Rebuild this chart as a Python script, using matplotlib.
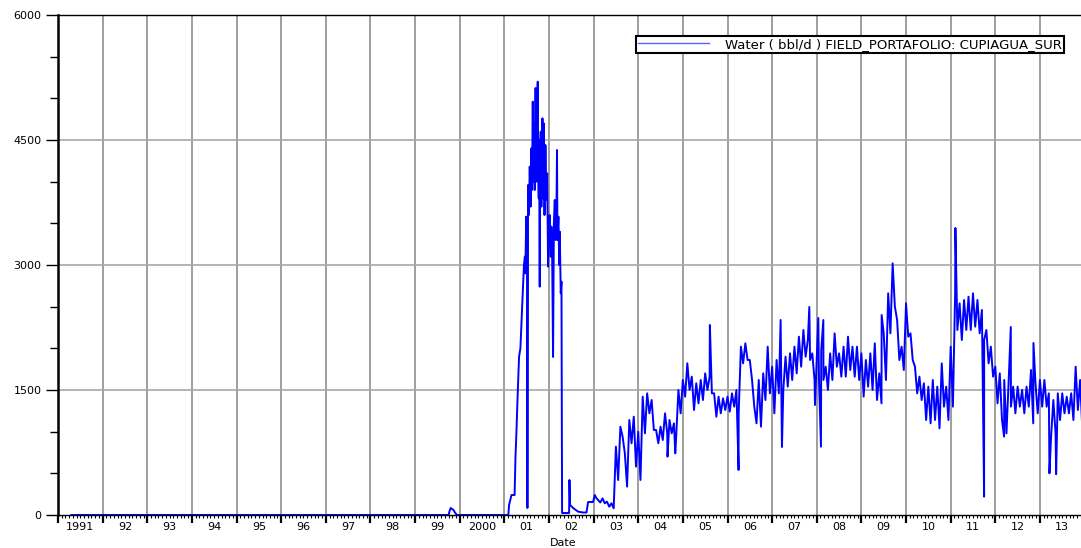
import numpy as np
import matplotlib.pyplot as plt
from matplotlib.ticker import MultipleLocator, FixedLocator, NullFormatter

# ---------------------------------------------------------------------------
# water rate (bbl/d) vs decimal year

# 1991 - early 2003: single line, read point by point
early_years = [
    1991.30, 1999.75, 1999.78, 1999.80, 1999.86, 1999.90, 1999.94, 2001.09,
    2001.106, 2001.16, 2001.23, 2001.25, 2001.27, 2001.30, 2001.33, 2001.36,
    2001.38, 2001.40, 2001.42, 2001.44, 2001.46, 2001.47, 2001.49, 2001.50,
    2001.509, 2001.517, 2001.532, 2001.55, 2001.569, 2001.59, 2001.607,
    2001.62, 2001.637, 2001.65, 2001.666, 2001.68, 2001.70, 2001.71, 2001.72,
    2001.735, 2001.748, 2001.76, 2001.771, 2001.78, 2001.793, 2001.80,
    2001.816, 2001.83, 2001.854, 2001.87, 2001.883, 2001.90, 2001.92,
    2001.943, 2001.96, 2001.980, 2002.00, 2002.018, 2002.04, 2002.055,
    2002.07, 2002.092, 2002.11, 2002.130, 2002.15, 2002.167, 2002.18,
    2002.19, 2002.212, 2002.23, 2002.242, 2002.264, 2002.28, 2002.294,
    2002.451, 2002.459, 2002.474, 2002.541, 2002.653, 2002.765, 2002.840,
    2002.877, 2002.989, 2003.026, 2003.06,
]
early_water = [
    0, 0, 60, 84, 60, 24, 0, 0,
    120, 240, 240, 700, 980, 1464, 1900, 2000,
    2260, 2500, 2760, 3000, 3100, 2900, 3580, 3300,
    3400, 84, 3960, 3600, 4180, 3700, 4400,
    3900, 4960, 4000, 4700, 3900, 5124, 4200, 4000,
    4800, 5200, 4100, 3800, 4500, 2740, 4300,
    4600, 3700, 4760, 3800, 4700, 3600, 4440,
    3780, 4100, 2980, 3500, 3600, 3100, 3460,
    3200, 1896, 3500, 3780, 3300, 3600, 4380,
    3300, 3580, 3000, 3400, 2660, 2800, 24,
    24, 420, 120, 84, 40, 30, 30,
    156, 156, 240, 204,
]

# 2003.1 - 2013.9: dense daily band, upper and lower edge every 0.1 year
band_years = np.round(np.arange(2003.1, 2013.95, 0.1), 2)
band_top = [
    180, 200, 160, 140, 820, 1060, 740, 1140, 1180,
    1000, 1420, 1460, 1380, 1020, 1060, 1220, 1140, 1100, 1500,
    1620, 1820, 1660, 1580, 1620, 1700, 1660, 1460, 1420, 1400,
    1420, 1460, 1500, 2020, 2060, 1860, 1300, 1620, 1700, 2020,
    1780, 1860, 1820, 1900, 1940, 2020, 2140, 2220, 2100, 1940,
    1900, 1980, 1780, 1940, 2180, 1940, 2020, 2140, 2020, 2020,
    1940, 1860, 1940, 2060, 1700, 2180, 2660, 3020, 2340, 2020,
    2540, 2180, 1780, 1660, 1580, 1540, 1620, 1540, 1820, 1540,
    2020, 2660, 2540, 2580, 2620, 2660, 2580, 2460, 2220, 2020,
    1780, 1700, 1620, 1620, 1540, 1540, 1500, 1540, 1740, 1580,
    1620, 1620, 1460, 1380, 1460, 1460, 1420, 1460, 1780, 1620,
]
band_bot = [
    150, 140, 100, 80, 420, 940, 340, 860, 580,
    420, 980, 1220, 1020, 860, 900, 980, 980, 940, 1220,
    1420, 1500, 1260, 1340, 1380, 1500, 1460, 1180, 1220, 1260,
    1240, 1300, 1220, 1820, 1860, 1620, 1100, 1060, 1380, 1460,
    1220, 1460, 1500, 1540, 1620, 1700, 1780, 1900, 1860, 1620,
    1620, 1620, 1500, 1620, 1780, 1660, 1660, 1740, 1660, 1620,
    1420, 1540, 1500, 1380, 1340, 1620, 2180, 2500, 1860, 1740,
    2140, 1860, 1460, 1380, 1140, 1100, 1140, 1040, 1300, 1140,
    1300, 2220, 2100, 2220, 2220, 2260, 2180, 2100, 1820, 1660,
    1340, 1140, 980, 1300, 1220, 1300, 1220, 1300, 1100, 1220,
    1300, 1300, 940, 980, 1140, 1220, 1220, 1140, 1260, 1020,
]

# single-day spikes and drops sticking out of the band
spike_years = [2004.656, 2004.83, 2005.605, 2006.248, 2007.190, 2007.220,
               2007.833, 2007.960, 2008.034, 2008.094, 2008.147, 2009.454,
               2011.106, 2011.749, 2012.197, 2012.347, 2012.855, 2013.213,
               2013.363]
spike_water = [700, 740, 2280, 540, 2340, 816,
               2496, 1320, 2364, 820, 2340, 2400,
               3444, 220, 940, 2256, 2064, 500,
               490]

year_labels = ["1991", "92", "93", "94", "95", "96", "97", "98", "99", "2000",
               "01", "02", "03", "04", "05", "06", "07", "08", "09", "10",
               "11", "12", "13"]
y_ticks = [0, 1500, 3000, 4500, 6000]
legend_text = "Water ( bbl/d ) FIELD_PORTAFOLIO: CUPIAGUA_SUR"
# ---------------------------------------------------------------------------

# put the band edges one after the other so the line zigzags inside the band
band_x = np.column_stack([band_years, band_years + 0.05]).ravel()
band_y = np.column_stack([band_top, band_bot]).ravel()

x_all = np.concatenate([early_years, band_x, spike_years])
y_all = np.concatenate([early_water, band_y, spike_water])
order = np.argsort(x_all, kind="stable")
x_all = x_all[order]
y_all = y_all[order]

plt.rcParams['font.family'] = ['DejaVu Sans']
plt.rcParams['font.size'] = 8

fig = plt.figure(figsize=(10.81, 5.48), dpi=100)
ax = fig.add_axes((58 / 1081, 33 / 548, 1 - 58 / 1081, 500 / 548))

ax.set_xlim(1991.0, 2013.92)
ax.set_ylim(0, 6000)

# grid: year boundaries and every 1500 bbl/d
for yr in range(1992, 2014):
    ax.axvline(yr, color="#969696", linewidth=1.3, zorder=0)
for v in y_ticks[1:-1]:
    ax.axhline(v, color="#a8a8a8", linewidth=1.2, zorder=0)

ax.plot(x_all, y_all, color="#0000ff", linewidth=1.4, label=legend_text,
        zorder=3)

# y axis
ax.yaxis.set_major_locator(FixedLocator(y_ticks))
ax.yaxis.set_minor_locator(MultipleLocator(500))
ax.tick_params(axis="y", which="major", direction="out", length=9,
               width=1, pad=3, labelsize=8)
ax.tick_params(axis="y", which="minor", direction="out", length=5.5, width=1)

# x axis: long ticks at the year boundaries, monthly minor ticks,
# labels sit in the middle of each year
ax.xaxis.set_major_locator(FixedLocator(list(range(1991, 2014))))
ax.xaxis.set_major_formatter(NullFormatter())
ax.xaxis.set_minor_locator(MultipleLocator(1 / 12))
ax.tick_params(axis="x", which="major", direction="out", length=6, width=1.6)
ax.tick_params(axis="x", which="minor", direction="out", length=2.5,
               width=0.8)
for i, lab in enumerate(year_labels):
    ax.text(1991.5 + i, -0.024, lab, transform=ax.get_xaxis_transform(),
            ha="center", va="center", fontsize=8)

ax.text(0.494, -0.056, "Date", transform=ax.transAxes, ha="center",
        va="center", fontsize=8)

ax.spines["left"].set_linewidth(1.8)
ax.spines["top"].set_linewidth(1.0)
ax.spines["bottom"].set_linewidth(1.0)
ax.spines["right"].set_visible(False)

leg = ax.legend(loc="upper right", bbox_to_anchor=(0.9834, 0.958),
                fancybox=False, framealpha=1, edgecolor="black",
                handlelength=5.4, handletextpad=1.2, borderpad=0.15,
                borderaxespad=0, fontsize=9.5)
leg.get_frame().set_linewidth(1.5)
for line in leg.get_lines():
    line.set_linewidth(1.0)
    line.set_color("#6060ff")

fig.savefig("out.png", dpi=100)
